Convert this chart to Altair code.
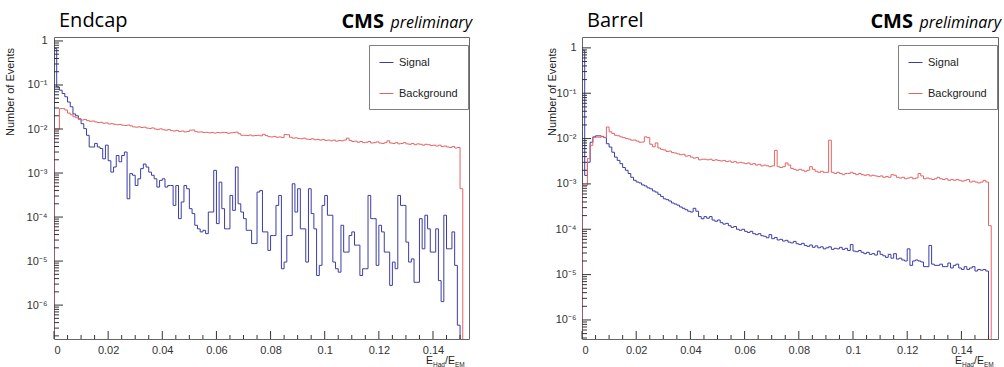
import altair as alt
import pandas as pd

# ---------------- data ----------------
bin_width = 0.001

endcap_signal = [
    0.67, 0.090, 0.076, 0.064, 0.054, 0.041, 0.032, 0.022, 0.020, 0.017,
    0.0132, 0.0102, 0.0072, 0.0039, 0.0039, 0.0047, 0.0039, 0.0036, 0.0021, 0.0043,
    0.0019, 0.00105, 0.00137, 0.0025, 0.0018, 0.0025, 0.0030, 0.00026, 0.00097, 0.00089,
    0.00052, 0.00074, 0.00126, 0.0016, 0.00137, 0.00105, 0.00089, 0.00074, 0.00048, 0.00068,
    0.00074, 0.00048, 0.00052, 0.00052, 0.000184, 0.00052, 0.000092, 0.00022, 0.00052, 0.00044,
    0.000155, 0.00012, 0.000065, 0.000054, 0.000046, 0.00005, 0.000042, 0.00013, 0.00013, 0.00115,
    0.000071, 0.00062, 0.000155, 0.000054, 0.000054, 0.00031, 0.000142, 0.00137, 0.0002, 0.00013,
    0.000092, 0.00005, 0.00005, 0.000025, 0.000025, 0.00037, 0.0004, 0.000046, 0.000046, 0.0000175,
    0.000038, 0.000038, 0.000184, 0.00031, 0.0000067, 0.0000095, 0.000038, 0.000038, 0.00057, 0.00013,
    0.00044, 0.000054, 0.000054, 0.0000095, 0.00044, 0.00012, 0.000054, 0.0000047, 0.000008, 0.000184,
    0.00031, 0.00011, 0.00011, 0.0000095, 0.0000067, 0.0000056, 0.000065, 0.000016, 0.000016, 0.000038,
    0.000046, 0.000023, 0.000023, 0.0000047, 0.0000067, 0.0000067, 0.00031, 0.000092, 0.000092, 0.000008,
    0.000065, 0.000046, 0.000016, 0.000016, 0.0000028, 0.0000095, 0.0000067, 0.00031, 0.000184, 0.000184,
    0.000027, 0.0000095, 0.0000112, 0.0000033, 0.0000033, 0.000092, 0.000019, 0.00011, 0.000054, 0.000016,
    0.000016, 0.000054, 0.0000036, 0.0000012, 0.00011, 0.000019, 0.000019, 0.000046, 0.000008, 0.00000035,
]

endcap_background = [
    0.0100, 0.0100, 0.029, 0.029, 0.027, 0.023, 0.021, 0.019, 0.018, 0.0165,
    0.0160, 0.0165, 0.0155, 0.0150, 0.0152, 0.0145, 0.0140, 0.0142, 0.0135, 0.0138,
    0.0130, 0.0132, 0.0128, 0.0125, 0.0127, 0.0122, 0.0120, 0.0123, 0.0118, 0.0112,
    0.0110, 0.0112, 0.0108, 0.0110, 0.0105, 0.0103, 0.0106, 0.0100, 0.0098, 0.0101,
    0.0096, 0.0094, 0.0097, 0.0092, 0.0090, 0.0093, 0.0088, 0.0090, 0.0086, 0.0088,
    0.0094, 0.0095, 0.0087, 0.0085, 0.0086, 0.0083, 0.0084, 0.0082, 0.0083, 0.0081,
    0.0083, 0.0082, 0.0084, 0.0083, 0.0080, 0.0082, 0.0083, 0.0085, 0.0078, 0.0072,
    0.0072, 0.0071, 0.0073, 0.0070, 0.0071, 0.0072, 0.0070, 0.0076, 0.0071, 0.0067,
    0.0066, 0.0068, 0.0065, 0.0066, 0.0064, 0.0075, 0.0074, 0.0065, 0.0062, 0.0063,
    0.0061, 0.0060, 0.0062, 0.0059, 0.0058, 0.0060, 0.0057, 0.0058, 0.0056, 0.0058,
    0.0055, 0.0056, 0.0054, 0.0056, 0.0053, 0.0055, 0.0054, 0.0056, 0.0062, 0.0055,
    0.0052, 0.0053, 0.0050, 0.0052, 0.0049, 0.0050, 0.0052, 0.0048, 0.0049, 0.0051,
    0.0048, 0.0047, 0.0049, 0.0054, 0.0048, 0.0047, 0.0049, 0.0046, 0.0047, 0.0049,
    0.0046, 0.0045, 0.0047, 0.0044, 0.0046, 0.0045, 0.0043, 0.0045, 0.0044, 0.0042,
    0.0043, 0.0041, 0.0043, 0.0040, 0.0041, 0.0039, 0.0038, 0.0040, 0.0037, 0.0038,
    0.00044,
]

barrel_signal = [
    0.89, 1.54e-3, 3.0e-3, 8.3e-3, 0.0109, 0.0115, 0.0115, 0.0112, 0.0105, 7.7e-3,
    6.5e-3, 5.0e-3, 3.9e-3, 3.3e-3, 2.8e-3, 2.3e-3, 2.0e-3, 1.7e-3, 1.4e-3, 1.2e-3,
    1.1e-3, 1.05e-3, 9.5e-4, 9.0e-4, 8.2e-4, 7.8e-4, 7.0e-4, 6.6e-4, 5.9e-4, 5.3e-4,
    4.7e-4, 4.5e-4, 4.2e-4, 3.8e-4, 3.6e-4, 3.4e-4, 3.1e-4, 2.9e-4, 2.7e-4, 2.5e-4,
    2.4e-4, 2.9e-4, 2.5e-4, 1.9e-4, 1.7e-4, 1.9e-4, 1.75e-4, 1.9e-4, 1.6e-4, 1.5e-4,
    1.6e-4, 1.4e-4, 1.3e-4, 1.35e-4, 1.2e-4, 1.1e-4, 1.15e-4, 1.0e-4, 9.5e-5, 1.0e-4,
    9.0e-5, 8.5e-5, 9.0e-5, 8.0e-5, 7.6e-5, 8.0e-5, 7.2e-5, 7.0e-5, 6.5e-5, 7.6e-5,
    6.2e-5, 6.6e-5, 5.8e-5, 6.0e-5, 5.5e-5, 5.7e-5, 5.2e-5, 5.0e-5, 5.4e-5, 4.8e-5,
    4.6e-5, 4.9e-5, 4.4e-5, 4.2e-5, 4.5e-5, 4.0e-5, 4.3e-5, 3.9e-5, 4.1e-5, 3.7e-5,
    3.9e-5, 4.1e-5, 3.6e-5, 3.8e-5, 3.7e-5, 4.0e-5, 3.6e-5, 3.8e-5, 3.4e-5, 4.6e-5,
    3.3e-5, 3.2e-5, 3.4e-5, 3.1e-5, 2.9e-5, 3.1e-5, 2.8e-5, 2.9e-5, 2.7e-5, 3.3e-5,
    2.8e-5, 2.6e-5, 2.4e-5, 2.8e-5, 2.3e-5, 2.9e-5, 2.2e-5, 2.3e-5, 2.1e-5, 2.0e-5,
    3.7e-5, 1.6e-5, 2.0e-5, 2.1e-5, 2.0e-5, 1.9e-5, 1.5e-5, 1.5e-5, 4.4e-5, 1.7e-5,
    1.6e-5, 1.6e-5, 1.7e-5, 1.5e-5, 1.5e-5, 1.8e-5, 1.4e-5, 1.6e-5, 1.7e-5, 1.4e-5,
    1.3e-5, 1.5e-5, 1.3e-5, 1.4e-5, 1.5e-5, 1.2e-5, 1.3e-5, 1.25e-5, 1.3e-5, 1.2e-5,
]

barrel_background = [
    9.3e-4, 9.3e-4, 3.6e-3, 7.1e-3, 0.0105, 0.0108, 0.0107, 0.0110, 0.0106, 0.018,
    0.0141, 0.0130, 0.0118, 0.0115, 0.0109, 0.0105, 0.0100, 0.0097, 0.0092, 0.0093,
    0.0088, 0.0083, 0.0084, 0.0109, 0.0105, 0.0075, 0.0066, 0.0080, 0.0062, 0.0058,
    0.0056, 0.0052, 0.0053, 0.0049, 0.0048, 0.0046, 0.0044, 0.0045, 0.0041, 0.0042,
    0.0039, 0.0037, 0.0038, 0.0034, 0.0035, 0.0035, 0.0034, 0.0035, 0.0033, 0.0034,
    0.0033, 0.0032, 0.0033, 0.0031, 0.0032, 0.0030, 0.0031, 0.0029, 0.0030, 0.0029,
    0.0028, 0.0029, 0.0027, 0.0028, 0.0026, 0.0027, 0.0025, 0.0026, 0.0025, 0.0024,
    0.0025, 0.0055, 0.0024, 0.0023, 0.0024, 0.0029, 0.0026, 0.0022, 0.0021, 0.0020,
    0.0021, 0.0020, 0.0019, 0.0020, 0.0024, 0.0021, 0.0019, 0.0018, 0.0019, 0.0018,
    0.0018, 0.0092, 0.0018, 0.0017, 0.0018, 0.0017, 0.0016, 0.0017, 0.0017, 0.0018,
    0.0017, 0.0016, 0.0017, 0.0016, 0.00155, 0.0016, 0.0015, 0.00155, 0.0015, 0.00145,
    0.0015, 0.0014, 0.00145, 0.0014, 0.0016, 0.00155, 0.0014, 0.00135, 0.0014, 0.0013,
    0.00135, 0.0014, 0.0013, 0.00135, 0.0017, 0.0015, 0.0013, 0.00135, 0.0013, 0.00125,
    0.0013, 0.0014, 0.0013, 0.00125, 0.0013, 0.0012, 0.00125, 0.0012, 0.00125, 0.0012,
    0.00115, 0.0012, 0.00125, 0.0011, 0.00115, 0.0011, 0.00105, 0.0011, 0.0012, 0.0011,
    1.2e-4,
]

series_names = ["Signal", "Background"]
series_colors = ["#3c3ca6", "#e46464"]

x_label_values = [0, 0.02, 0.04, 0.06, 0.08, 0.10, 0.12, 0.14]
x_minor_values = [0.005, 0.01, 0.015, 0.025, 0.03, 0.035, 0.045, 0.05, 0.055,
                  0.065, 0.07, 0.075, 0.085, 0.09, 0.095, 0.105, 0.11, 0.115,
                  0.125, 0.13, 0.135, 0.145, 0.15]
y_label_values = [1e-6, 1e-5, 1e-4, 1e-3, 1e-2, 1e-1, 1]
y_minor_mantissas = [2, 3, 4, 5, 6, 7, 8, 9]
y_minor_decades = [1e-7, 1e-6, 1e-5, 1e-4, 1e-3, 1e-2, 1e-1]

PLOT_H = 302
FLOOR = 1e-9  # outline closes down to zero (below the visible range)
TICK = "#333333"
LABEL_FONT = "Liberation Sans"

y_label_expr = ("['10\u207b\u2076','10\u207b\u2075','10\u207b\u2074','10\u207b\u00b3',"
                "'10\u207b\u00b2','10\u207b\u00b9','1'][round(log(datum.value)/LN10)+6]")


def hist_frame(signal, background):
    rows = []
    for name, vals in (("Signal", signal), ("Background", background)):
        rows.append({"series": name, "x": 0.0, "v": FLOOR, "i": 0})
        for k, v in enumerate(vals):
            rows.append({"series": name, "x": round(k * bin_width, 6), "v": v, "i": k + 1})
        rows.append({"series": name, "x": round(len(vals) * bin_width, 6), "v": FLOOR,
                     "i": len(vals) + 1})
    return pd.DataFrame(rows)


def text_layer(txt, x, y, size, font="Liberation Sans", weight="normal", style="normal",
               align="left", angle=0, color="#000000", baseline="alphabetic"):
    return alt.Chart(pd.DataFrame({"t": [txt]})).mark_text(
        align=align, baseline=baseline, font=font, fontSize=size, fontWeight=weight,
        fontStyle=style, angle=angle, color=color,
    ).encode(text="t:N", x=alt.value(x), y=alt.value(y))


def panel(title, signal, background, width, xmax, ymin, ymax, ytitle_x, label_pad):
    xscale = alt.Scale(domain=[0, xmax], nice=False, zero=False)
    yscale = alt.Scale(type="log", domain=[ymin, ymax], nice=False)

    lines = alt.Chart(hist_frame(signal, background)).mark_line(
        interpolate="step-after", clip=True, strokeWidth=1
    ).encode(
        x=alt.X("x:Q", scale=xscale, title=None,
                axis=alt.Axis(values=x_label_values, format="~g", labelPadding=5,
                              labelFontSize=11, labelFont=LABEL_FONT, labelColor="#333333",
                              ticks=False, domain=False, grid=False)),
        y=alt.Y("v:Q", scale=yscale, title=None,
                axis=alt.Axis(values=y_label_values, labelExpr=y_label_expr,
                              labelPadding=label_pad, labelFontSize=11, labelFont=LABEL_FONT,
                              labelColor="#333333", ticks=False, domain=False, grid=False)),
        color=alt.Color("series:N",
                        scale=alt.Scale(domain=series_names, range=series_colors),
                        legend=alt.Legend(orient="none", legendX=width - 100, legendY=8,
                                          title=None, strokeColor="#808080",
                                          fillColor="white", padding=10,
                                          symbolType="stroke", symbolSize=196,
                                          symbolStrokeWidth=1, rowPadding=18,
                                          labelOffset=5, labelFont=LABEL_FONT,
                                          labelFontSize=11, labelColor="#222222")),
        order=alt.Order("i:Q"),
    )

    x_major = alt.Chart(pd.DataFrame({"x": x_label_values})).mark_rule(
        color=TICK, strokeWidth=1).encode(
        x=alt.X("x:Q", scale=xscale), y=alt.value(PLOT_H), y2=alt.value(PLOT_H - 8))
    x_minor = alt.Chart(pd.DataFrame({"x": x_minor_values})).mark_rule(
        color=TICK, strokeWidth=1).encode(
        x=alt.X("x:Q", scale=xscale), y=alt.value(PLOT_H), y2=alt.value(PLOT_H - 4))

    minor_vals = [m * d for d in y_minor_decades for m in y_minor_mantissas
                  if ymin <= m * d <= ymax]
    y_major = alt.Chart(pd.DataFrame({"v": y_label_values})).mark_rule(
        color=TICK, strokeWidth=1).encode(
        y=alt.Y("v:Q", scale=yscale), x=alt.value(0), x2=alt.value(9))
    y_minor = alt.Chart(pd.DataFrame({"v": minor_vals})).mark_rule(
        color=TICK, strokeWidth=1).encode(
        y=alt.Y("v:Q", scale=yscale), x=alt.value(0), x2=alt.value(5))

    base_y = PLOT_H + 25
    texts = [
        text_layer(title, 5, -10, 20, font="Open Sans"),
        text_layer("CMS", width - 85, -9, 20, font="Open Sans", weight="bold", align="right"),
        text_layer("preliminary", width + 3, -9, 16, font="Open Sans", style="italic",
                   align="right"),
        text_layer("Number of Events", ytitle_x, 55, 11, angle=270, align="center",
                   baseline="middle", color="#222222"),
        text_layer("E", width - 43, base_y, 10.5, color="#222222"),
        text_layer("Had", width - 36, base_y + 3, 6.5, color="#222222"),
        text_layer("/E", width - 24, base_y, 10.5, color="#222222"),
        text_layer("EM", width - 14, base_y + 3, 6.5, color="#222222"),
    ]

    return alt.layer(lines, x_major, x_minor, y_major, y_minor, *texts).properties(
        width=width, height=PLOT_H)


endcap = panel("Endcap", endcap_signal, endcap_background, 415, 0.1533,
               10 ** -6.77, 10 ** 0.09, -43, 7)
barrel = panel("Barrel", barrel_signal, barrel_background, 416, 0.1535,
               10 ** -6.42, 10 ** 0.24, -29, 6)

chart = alt.hconcat(endcap, barrel, spacing=113, bounds="flush").resolve_scale(
    color="independent", x="independent", y="independent"
).properties(
    padding={"left": 4, "top": 10, "right": 2, "bottom": 2},
    autosize=alt.AutoSizeParams(type="pad"),
    background="white",
).configure_view(stroke="#666666", strokeWidth=1)

chart.save("out.html", embed_options={"renderer": "svg", "actions": False})
